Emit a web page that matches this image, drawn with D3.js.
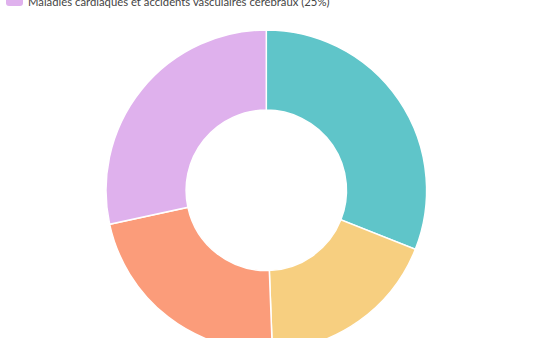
<!DOCTYPE html>
<html><head><meta charset="utf-8">
<script src="https://cdn.jsdelivr.net/npm/d3@7"></script>
<style>html,body{margin:0;padding:0;background:#fff;overflow:hidden}</style>
</head><body>
<svg id="c" width="537" height="338"></svg>
<script>
const categories = ["A", "B", "C", "Maladies cardiaques et accidents vasculaires cérébraux"];
const values = [31.0, 18.4, 22.2, 28.4];
const colors = ["#5fc5c9", "#f7cf80", "#fb9c7a", "#dfb1ed"];
const legendLabels = ["Maladies cardiaques et accidents vasculaires cérébraux (25%)"];
const legendColors = ["#dfb1ed"];

const svg = d3.select("#c");
const cx = 266.3, cy = 190.3, R = 160.3, r = 80.2;
const pie = d3.pie().sort(null).value(d => d)(values);
const arc = d3.arc().innerRadius(r).outerRadius(R);
const g = svg.append("g").attr("transform", `translate(${cx},${cy})`);
g.selectAll("path").data(pie).join("path")
  .attr("d", arc)
  .attr("fill", (d, i) => colors[i])
  .attr("stroke", "#fff").attr("stroke-width", 1.5);

const lg = svg.append("g");
legendLabels.forEach((t, i) => {
  lg.append("rect").attr("x", 6).attr("y", -8).attr("width", 17).attr("height", 14)
    .attr("rx", 3).attr("fill", legendColors[i]);
  lg.append("text").attr("x", 28).attr("y", 6).attr("font-family", "Lato, sans-serif")
    .attr("font-size", 11.3).attr("fill", "#444").text(t);
});
</script>
</body></html>
